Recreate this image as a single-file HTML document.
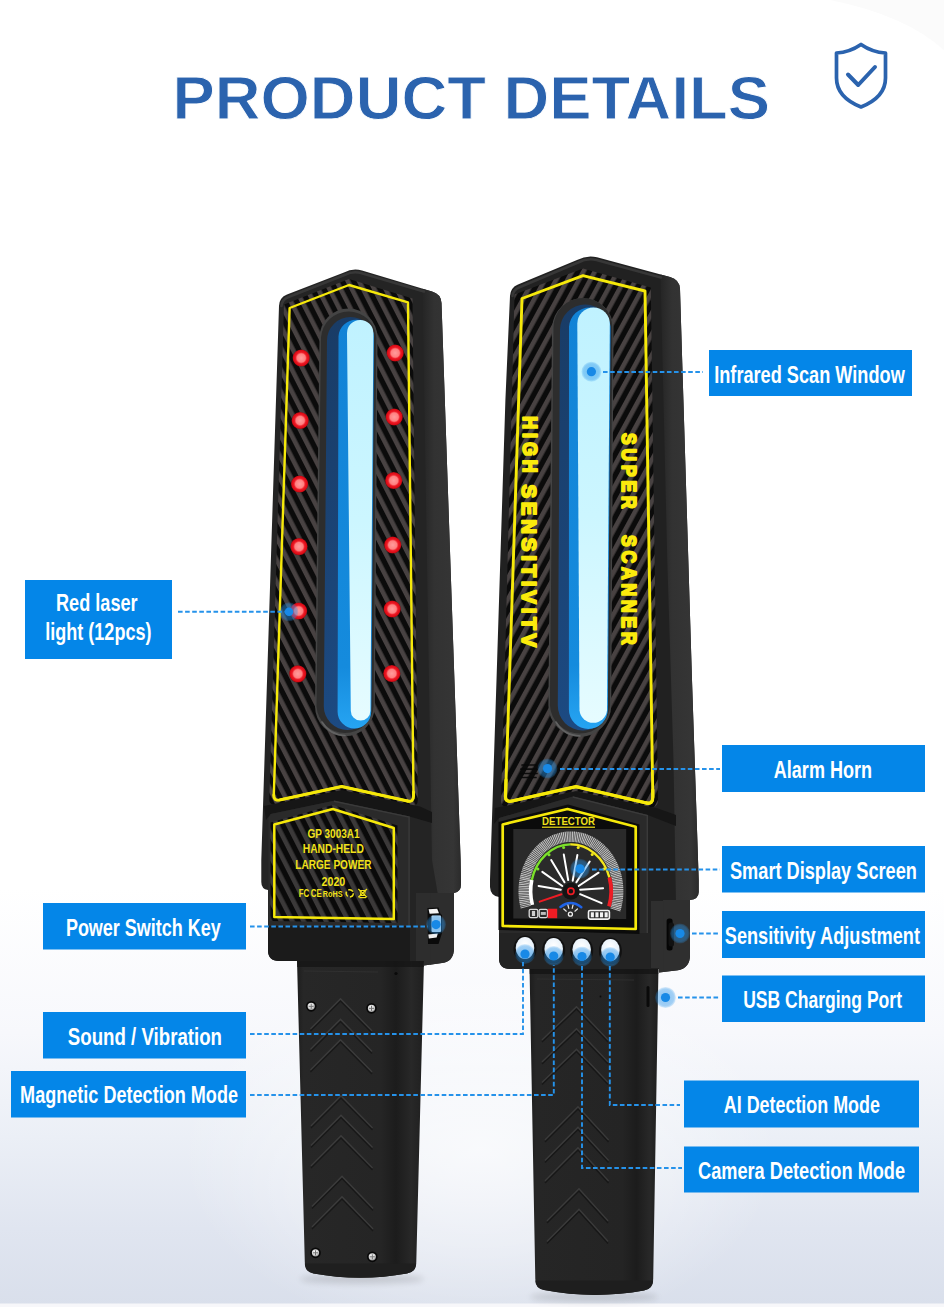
<!DOCTYPE html>
<html><head><meta charset="utf-8"><title>Product Details</title>
<style>
html,body{margin:0;padding:0;background:#fff;}
body{width:944px;height:1307px;overflow:hidden;position:relative;font-family:"Liberation Sans",sans-serif;}
svg{position:absolute;left:0;top:0;display:block;}
text{font-family:"Liberation Sans",sans-serif;}
.lb{font-weight:bold;fill:#fff;font-size:24.5px;}
.dash{fill:none;stroke:#2592ea;stroke-width:1.9;stroke-dasharray:4.6 2.5;}
</style></head><body>
<svg width="944" height="1307" viewBox="0 0 944 1307">
<defs>
<linearGradient id="bg" x1="0" y1="0" x2="0" y2="1">
<stop offset="0" stop-color="#ffffff"/><stop offset="0.68" stop-color="#ffffff"/>
<stop offset="0.79" stop-color="#f7f8fc"/><stop offset="0.87" stop-color="#ebeff6"/><stop offset="0.94" stop-color="#e0e5f0"/><stop offset="1" stop-color="#d9dfeb"/>
</linearGradient>
<filter id="blur3" x="-20%" y="-200%" width="140%" height="500%"><feGaussianBlur stdDeviation="3"/></filter>
<radialGradient id="bgc" cx="0.5" cy="0.5" r="0.5">
<stop offset="0" stop-color="#ffffff" stop-opacity="0.7"/><stop offset="0.5" stop-color="#ffffff" stop-opacity="0.4"/><stop offset="1" stop-color="#ffffff" stop-opacity="0"/>
</radialGradient>
</defs>
<!-- BACKGROUND -->
<rect width="944" height="1307" fill="url(#bg)"/>
<path d="M830 0 L944 0 L944 50 Q905 15 830 0 Z" fill="#fbfbfb"/>
<ellipse cx="480" cy="1150" rx="300" ry="190" fill="url(#bgc)"/>
<rect x="0" y="1303.500" width="944" height="4" fill="#f7f7fa"/>
<!-- TITLE -->
<text id="title" x="172.500" y="118.600" font-size="61" font-weight="bold" fill="#2b63ae" stroke="#ffffff" stroke-width="0.900" paint-order="fill stroke" textLength="597.500" lengthAdjust="spacingAndGlyphs">PRODUCT DETAILS</text>
<!-- SHIELD -->
<g id="shield" fill="none" stroke="#2b63ae" stroke-width="3.7" stroke-linejoin="round" stroke-linecap="round">
<path d="M861 44.5 C853 50 845 52.5 836.5 53 L836.5 78 C836.5 92 846 101 861 107 C876 101 885.500 92 885.500 78 L885.500 53 C877 52.500 869 50 861 44.500 Z"/>
<path d="M848 74.500 L858.200 85 L875 67" stroke-width="4"/>
</g>
<!--DEVICES-->
<defs>
<pattern id="cfL" width="10" height="40" patternUnits="userSpaceOnUse" patternTransform="rotate(-27)">
<rect width="10" height="40" fill="#0b0b0b"/><rect x="0" width="4.6" height="40" fill="#484242"/>
</pattern>
<pattern id="cfL2" width="10" height="40" patternUnits="userSpaceOnUse" patternTransform="rotate(-27)">
<rect width="10" height="40" fill="#0a0a0a"/><rect x="0" width="4.600" height="40" fill="#3b3939"/>
</pattern>
<pattern id="cfR" width="10" height="40" patternUnits="userSpaceOnUse" patternTransform="rotate(28.5)">
<rect width="10" height="40" fill="#0b0b0b"/><rect x="0" width="4.6" height="40" fill="#484242"/>
</pattern>
<linearGradient id="sideL" x1="0" y1="0" x2="1" y2="0">
<stop offset="0" stop-color="#252525"/><stop offset="0.3" stop-color="#323232"/><stop offset="0.8" stop-color="#353535"/><stop offset="1" stop-color="#2b2b2b"/>
</linearGradient>
<linearGradient id="handL" x1="0" y1="0" x2="1" y2="0">
<stop offset="0" stop-color="#1d1d1d"/><stop offset="0.05" stop-color="#272727"/><stop offset="0.66" stop-color="#252525"/><stop offset="0.78" stop-color="#1c1c1c"/><stop offset="0.90" stop-color="#282828"/><stop offset="1" stop-color="#1f1f1f"/>
</linearGradient>
<linearGradient id="cy" x1="0" y1="0" x2="0" y2="1"><stop offset="0" stop-color="#c0f2ff"/><stop offset="0.5" stop-color="#ccf6ff"/><stop offset="1" stop-color="#e6fcff"/></linearGradient>
<linearGradient id="bl" x1="0" y1="0" x2="0" y2="1"><stop offset="0" stop-color="#1283d6"/><stop offset="0.85" stop-color="#158bdd"/><stop offset="1" stop-color="#26a4f2"/></linearGradient>
<linearGradient id="db" x1="0" y1="0" x2="0" y2="1"><stop offset="0" stop-color="#193c66"/><stop offset="1" stop-color="#1c4a82"/></linearGradient>
<radialGradient id="red" cx="0.5" cy="0.5" r="0.5">
<stop offset="0" stop-color="#ff9c9c"/><stop offset="0.48" stop-color="#ff8080"/><stop offset="0.66" stop-color="#ee1a26"/><stop offset="0.9" stop-color="#d80a14"/><stop offset="1" stop-color="#8d0a10"/>
</radialGradient>
<radialGradient id="screw" cx="0.45" cy="0.4" r="0.6">
<stop offset="0" stop-color="#ffffff"/><stop offset="0.6" stop-color="#cfcfcf"/><stop offset="1" stop-color="#6d6d6d"/>
</radialGradient>
</defs>
<g id="devL">
<!-- handle -->
<ellipse cx="362" cy="1279" rx="62" ry="5" fill="#000" opacity="0.13" filter="url(#blur3)"/>
<path d="M297 960 L424 960 L416.300 1262 Q416.200 1272 407 1273.500 Q360 1282 313.500 1273.500 Q305 1272 304.800 1262 Z" fill="url(#handL)"/>
<path d="M297 960 L424 960 L423.800 967 L297.200 967 Z" fill="#151515" opacity="0.8"/>
<path d="M304 971 L378 972" stroke="#303030" stroke-width="1.200" fill="none"/>
<circle cx="396" cy="973.500" r="1.600" fill="#0a0a0a"/>
<path d="M304.800 1263.500 L416.200 1263.500 Q416 1272 407 1273.500 Q360 1282 313.500 1273.500 Q305 1272 304.800 1263.500 Z" fill="#1f1f1f"/>
<g fill="none" stroke="#3b3b3b" stroke-width="1.6" stroke-linejoin="miter">
<path d="M310.500 1029 L340.500 999 L372 1031"/><path d="M310.500 1049.500 L340.500 1019.500 L372 1051.500"/><path d="M310.500 1070 L340.500 1040 L372 1072"/>
<path d="M311 1126 L341 1096 L372.500 1128"/><path d="M311 1145.500 L341 1115.500 L372.500 1147.500"/><path d="M311 1166 L341 1136 L372.500 1168"/>
<path d="M312 1206.500 L342 1176.500 L373 1208.500"/><path d="M312 1227 L342 1197 L373 1229"/>
</g>
<g fill="none" stroke="#151515" stroke-width="1.4" stroke-linejoin="miter" opacity="0.8">
<path d="M310.500 1031 L340.500 1001 L372 1033"/><path d="M310.500 1051.500 L340.500 1021.500 L372 1053.500"/><path d="M310.500 1072 L340.500 1042 L372 1074"/>
<path d="M311 1128 L341 1098 L372.500 1130"/><path d="M311 1147.500 L341 1117.500 L372.500 1149.500"/><path d="M311 1168 L341 1138 L372.500 1170"/>
<path d="M312 1208.500 L342 1178.500 L373 1210.500"/><path d="M312 1229 L342 1199 L373 1231"/>
</g>
<g fill="url(#screw)" stroke="#080808" stroke-width="1.700">
<circle cx="311.200" cy="1006.300" r="4.500"/><circle cx="371.500" cy="1008.300" r="4.500"/><circle cx="315.500" cy="1252.800" r="4.500"/><circle cx="372.300" cy="1256.800" r="4.500"/>
</g>
<g stroke="#555" stroke-width="1" fill="none" opacity="0.8">
<path d="M308.700 1006.300 L313.700 1006.300 M311.200 1003.800 L311.200 1008.800"/><path d="M369 1008.300 L374 1008.300 M371.500 1005.800 L371.500 1010.800"/><path d="M313 1252.800 L318 1252.800 M315.500 1250.300 L315.500 1255.300"/><path d="M369.800 1256.800 L374.800 1256.800 M372.300 1254.300 L372.300 1259.300"/>
</g>
<!-- head silhouette -->
<path d="M344 272.500 Q352.500 268 362 270.500 L432 291.500 Q441 294 441.500 303 L460.600 860 L461 884 Q461 892 454 893 L454 948 Q454 961.500 442 963 L424 965.500 L424 961 L279 961 Q268 961 268 950 L268 890 Q261.300 889 261.300 882 L261.300 860 L279 306 Q279.300 297.500 287 294.500 Z" fill="#242424"/>
<!-- side face -->
<path d="M422.500 288.700 L432 291.500 Q441 294 441.500 303 L460.600 860 L461 884 Q461 892 454 893 L438 895 L432 860 Z" fill="url(#sideL)"/>
<!-- lower block right side -->
<path d="M430 893 L454 893 L454 948 Q454 961.500 442 963 L430 964.700 Z" fill="#2d2d2d"/>
<path d="M281.500 306 Q282 299.500 288.500 297 L345 274.800 Q352.500 271 361 273 L424 291.500" fill="none" stroke="#3b3b3b" stroke-width="2.600" stroke-linecap="round" opacity="0.85"/>
<!-- upper carbon panel -->
<path d="M284 304.500 L349 279 L412.500 298.500 L417.800 800 Q417.800 807 410.500 805.500 L342 790.500 L276 804.500 Q269 805.500 269.300 799 Z" fill="url(#cfL)"/>
<path d="M289.600 308 L349 285 L408 302.400 L413.500 796 Q413.500 802.500 407.500 801 L341.700 786.500 L279.500 800 Q273.500 801 273.800 795 Z" fill="none" stroke="#f6e90a" stroke-width="2.400" stroke-linejoin="round"/>
<path d="M407.500 801 L341.700 786.500 L279.500 800 Q273.500 801 273.800 795" fill="none" stroke="#f6e90a" stroke-width="2.900" stroke-linejoin="round" stroke-linecap="round"/>
<path d="M413.500 792 L413.500 796 Q413.500 802.500 407.500 801" fill="none" stroke="#f6e90a" stroke-width="2.900" stroke-linecap="round"/>
<!-- collar ridge -->
<path d="M264 806 L342 790 L420 806.500 L432 812 L432 823 L409.600 816.500 L334 800.700 L270.700 814 L266 820 Z" fill="#161616"/>
<path d="M270.700 814 L334 800.700 L409.600 816.500 L409.600 926 L268.500 926 L268.500 818 Z" fill="#2a2a2a"/>
<path d="M334 801.200 L409.100 817 L409.100 926" fill="none" stroke="#3a3a3a" stroke-width="1.400"/>
<path d="M268 926 L410 926 L410 961 L279 961 Q268 961 268 950 Z" fill="#1b1b1b"/>
<path d="M416 893 L430.500 893 L430.500 964.600 L424 965.500 L424 961 L416 961 Z" fill="#2d2d2d"/>
<!-- lower carbon panel -->
<path d="M270.500 822.500 L333 805 L397.500 825.500 L397.500 923 L270.500 921 Z" fill="url(#cfL2)"/>
<path d="M274.300 824.500 L332.800 809 L393.800 828 L393.800 919 L274.300 917 Z" fill="none" stroke="#f6e90a" stroke-width="2.500" stroke-linejoin="round"/>
<g fill="#f1e21a" font-weight="bold" font-size="12.400">
<text x="307.500" y="838.400" textLength="52" lengthAdjust="spacingAndGlyphs">GP 3003A1</text>
<text x="302.800" y="852.900" textLength="61" lengthAdjust="spacingAndGlyphs">HAND-HELD</text>
<text x="295.300" y="868.600" textLength="76.200" lengthAdjust="spacingAndGlyphs">LARGE POWER</text>
<text x="321.500" y="885.900" textLength="23.800" lengthAdjust="spacingAndGlyphs">2020</text>
<text x="298.800" y="897.300" font-size="10.500" textLength="10.500" lengthAdjust="spacingAndGlyphs">FC</text>
<text x="310.800" y="897.300" font-size="10.500" textLength="11" lengthAdjust="spacingAndGlyphs">CE</text>
<text x="322.800" y="897" font-size="9.500" textLength="19.800" lengthAdjust="spacingAndGlyphs">RoHS</text>
</g>
<g fill="none" stroke="#f1e21a" stroke-width="1.500">
<circle cx="349.700" cy="893.300" r="3.600" stroke-dasharray="5.300 2.200"/>
<path d="M358.300 889 L367 897.300 M367 889 L358.300 897.300" stroke-width="1.200"/>
<path d="M360 890.500 L365.300 890.500 L364.600 895.500 L360.700 895.500 Z" stroke-width="1"/>
<path d="M359.300 897.600 L366 897.600" stroke-width="1.200"/>
</g>
<!-- window -->
<g id="winL">
<path d="M319.5 337.5 A29.0 29.0 0 0 1 377.5 337.5 L374.8 706.3 A29.9 29.9 0 0 1 315.0 706.3 Z" fill="#444444"/>
<path d="M321.0 337.6 A27.7 27.7 0 0 1 376.3 337.6 L373.6 706.2 A28.6 28.6 0 0 1 316.5 706.2 Z" fill="#2d2d2d"/>
<path d="M327.0 340.5 A23.5 23.5 0 0 1 374.0 340.5 L371.2 706.3 A23.7 23.7 0 0 1 323.8 706.3 Z" fill="url(#db)"/>
<path d="M338.5 336.2 A17.8 17.8 0 0 1 374.0 336.2 L371.2 711.7 A16.8 16.8 0 0 1 337.6 711.7 Z" fill="url(#bl)"/>
<path d="M347.0 333.2 A13.2 13.2 0 0 1 373.4 333.2 L370.4 710.7 A9.8 9.8 0 0 1 350.8 710.7 Z" fill="url(#cy)"/>
<path d="M322 722 Q330 735 345 735.500" fill="none" stroke="#6a6a6a" stroke-width="1.600" stroke-linecap="round" opacity="0.8"/>
</g>
<!-- red dots -->
<g fill="url(#red)">
<circle cx="301.200" cy="358" r="8.600"/><circle cx="300.200" cy="420.500" r="8.600"/><circle cx="299.600" cy="484" r="8.600"/><circle cx="299" cy="546.600" r="8.600"/><circle cx="298.600" cy="611" r="8.600"/><circle cx="297.800" cy="673.800" r="8.600"/>
<circle cx="395.200" cy="353" r="8.600"/><circle cx="394.200" cy="417" r="8.600"/><circle cx="393.700" cy="480.500" r="8.600"/><circle cx="392.700" cy="545" r="8.600"/><circle cx="392.200" cy="609" r="8.600"/><circle cx="391.800" cy="673.500" r="8.600"/>
</g>
<!-- power switch -->
<path d="M427.500 908 L438.500 907.500 L440.500 914 L442 915 L442 933 L438.500 944 L428 944 Z" fill="#0a0a0a"/>
<path d="M428.600 909.200 L437.200 908.800 L439 913.200 L429.600 913.700 Z" fill="#f4f4f4"/>
<rect x="431.500" y="915.500" width="9.500" height="16.500" rx="1" fill="#dbe6ee"/>
<path d="M428.300 934.500 L437.800 933.500 L436.600 937.600 L428.800 938.600 Z" fill="#f0f0f0"/>
</g>

<!--DEVICES2-->
<defs>
<linearGradient id="handR" x1="0" y1="0" x2="1" y2="0">
<stop offset="0" stop-color="#1d1d1d"/><stop offset="0.05" stop-color="#262626"/><stop offset="0.72" stop-color="#242424"/><stop offset="0.83" stop-color="#1c1c1c"/><stop offset="0.93" stop-color="#282828"/><stop offset="1" stop-color="#1e1e1e"/>
</linearGradient>
<radialGradient id="btn" cx="0.5" cy="0.35" r="0.7">
<stop offset="0" stop-color="#ffffff"/><stop offset="0.6" stop-color="#e9f2fa"/><stop offset="1" stop-color="#a9c8e4"/>
</radialGradient>
<radialGradient id="halo" cx="0.5" cy="0.5" r="0.5">
<stop offset="0" stop-color="#2a95ea" stop-opacity="0.55"/><stop offset="0.8" stop-color="#2a95ea" stop-opacity="0.42"/><stop offset="1" stop-color="#2a95ea" stop-opacity="0.15"/>
</radialGradient>
</defs>
<g id="devR">
<!-- handle -->
<ellipse cx="594" cy="1297" rx="64" ry="5" fill="#000" opacity="0.13" filter="url(#blur3)"/>
<path d="M529.500 966 L658.500 966 L653.200 1279 Q653 1289 644 1290.500 Q594 1299.500 544 1290 Q535.500 1288.500 535.300 1279 Z" fill="url(#handR)"/>
<path d="M529.500 966 L658.500 966 L658.300 974 L529.700 974 Z" fill="#141414" opacity="0.8"/>
<path d="M537 979 L634 980" stroke="#2f2f2f" stroke-width="1.200" fill="none"/>
<path d="M535.300 1280.500 L653.200 1280.500 Q653 1289 644 1290.500 Q594 1299.500 544 1290 Q535.500 1288.500 535.300 1280.500 Z" fill="#1e1e1e"/>
<g fill="none" stroke="#3a3a3a" stroke-width="1.600">
<path d="M542 1040 L576.500 1007 L608 1040"/><path d="M542 1062 L576.500 1029 L608 1062"/><path d="M542 1082.500 L576.500 1049.500 L608 1082.500"/>
<path d="M545 1140 L578 1107 L608.500 1140"/><path d="M545 1160.500 L578 1127.500 L608.500 1160.500"/><path d="M545 1181 L578 1148 L608.500 1181"/>
<path d="M547 1221 L579 1189 L608 1221"/><path d="M547 1241.500 L579 1209.500 L608 1241.500"/>
</g>
<g fill="none" stroke="#141414" stroke-width="1.400" opacity="0.8">
<path d="M542 1042 L576.500 1009 L608 1042"/><path d="M542 1064 L576.500 1031 L608 1064"/><path d="M542 1084.500 L576.500 1051.500 L608 1084.500"/>
<path d="M545 1142 L578 1109 L608.500 1142"/><path d="M545 1162.500 L578 1129.500 L608.500 1162.500"/><path d="M545 1183 L578 1150 L608.500 1183"/>
<path d="M547 1223 L579 1191 L608 1223"/><path d="M547 1243.500 L579 1211.500 L608 1243.500"/>
</g>
<rect x="646.500" y="986" width="3" height="21" rx="1.500" fill="#0a0a0a"/>
<circle cx="600.500" cy="996.500" r="0.900" fill="#0a0a0a"/>
<!-- head silhouette -->
<path d="M577 260 Q587 254.800 597 257.300 L670 277 Q679.500 279.500 680 289 L683.400 400 L692 680 L698.700 880 L698.700 892 Q698.700 899 690 900 L690 955 Q690 968 678 970.200 L659 972.500 L659 969 L510 969 Q499 969 499 958 L499 897 Q490.500 896 490 887 L490 880 L496.500 680 L505.400 400 L510 296 Q510.500 287.500 518 284.500 Z" fill="#212121"/>
<!-- side face -->
<path d="M660.500 274.500 L670 277 Q679.500 279.500 680 289 L683.400 400 L692 680 L698.700 880 L698.700 892 Q698.700 899 690 900 L676 902 L673.500 760 L667.300 560 L663.500 400 Z" fill="url(#sideL)"/>
<path d="M663 900 L690 900 L690 955 Q690 968 678 970.200 L663 972 Z" fill="#2f2f2f"/>
<path d="M512.500 296 Q513 290 519.500 287.300 L578 262.500 Q587 257.800 596.500 260 L661 277.500" fill="none" stroke="#3b3b3b" stroke-width="2.600" stroke-linecap="round" opacity="0.85"/>
<!-- upper carbon -->
<path d="M514.500 294.500 L583 268.500 L650.800 287.500 L658 800 Q658 808.500 650 807 L576 791 L508 806 Q500.500 807.500 501 800 L504.500 680 Z" fill="url(#cfR)"/>
<path d="M522 298.500 L583 275.600 L645 291 L652.800 797 Q652.800 804.500 646.500 803 L576 786.700 L512 801 Q505 802.500 505.500 796 L509.400 680 Z" fill="none" stroke="#f6e90a" stroke-width="2.900" stroke-linejoin="round"/>
<path d="M646.500 803 L576 786.700 L512 801 Q505 802.500 505.500 796 L506 780" fill="none" stroke="#f6e90a" stroke-width="3.300" stroke-linejoin="round" stroke-linecap="round"/>
<path d="M652.800 790 L652.800 797 Q652.800 804.500 646.500 803" fill="none" stroke="#f6e90a" stroke-width="3.300" stroke-linecap="round"/>
<!-- collar -->
<path d="M495 808 L576 791.500 L658 808.500 L676 815 L676 826 L647.800 815 L572.800 796.500 L499 818 L494 824 Z" fill="#161616"/>
<path d="M499 818 L572.800 796.500 L647.800 815 L647.800 933 L499 933 Z" fill="#2a2a2a"/>
<path d="M572.800 797 L647.300 815.500 L647.300 933" fill="none" stroke="#3a3a3a" stroke-width="1.400"/>
<path d="M499 933 L650 933 L650 969 L510 969 Q499 969 499 958 Z" fill="#232323"/>
<path d="M651 901 L663.500 901 L663.500 972 L659 972.500 L659 968 L651 968 Z" fill="#2f2f2f"/>
<!-- lower panel -->
<path d="M498.500 822 L568 804.500 L639.500 824.500 L639.500 934 L498.500 930 Z" fill="#0b0b0b"/>
<path d="M502.700 824.500 L567.500 809 L635.700 826.700 L635.700 929 L502.700 926 Z" fill="none" stroke="#f6e90a" stroke-width="2.700" stroke-linejoin="round"/>
<text x="568.600" y="825" font-size="10.800" font-weight="bold" fill="#f1e21a" text-anchor="middle" textLength="53" lengthAdjust="spacingAndGlyphs">DETECTOR</text>
<rect x="542" y="826.600" width="53" height="1.200" fill="#f1e21a"/>
<!-- screen -->
<path d="M513.300 829 L626.200 829 L626.200 919 L513.300 918.500 Z" fill="#2a2a2a"/>
<g id="gauge">
<path d="M525.8 907.2 A47.2 54.6 0 1 1 615.3 909.9" fill="none" stroke="#bdbdbd" stroke-width="10.500" stroke-dasharray="1.150 0.550"/>
<path d="M532.4 904.9 A40.3 46.8 0 0 1 531.8 879.9" fill="none" stroke="#ffffff" stroke-width="3.600"/>
<path d="M531.8 879.9 A40.3 46.8 0 0 1 570.2 844.4" fill="none" stroke="#7be02a" stroke-width="2.400"/>
<path d="M570.2 844.4 A40.3 46.8 0 0 1 609.4 877.5" fill="none" stroke="#f4e71c" stroke-width="2.400"/>
<path d="M609.4 877.5 A40.3 46.8 0 0 1 609.0 906.4" fill="none" stroke="#ee1c24" stroke-width="3.800"/>
<circle cx="537.9" cy="869.0" r="1.500" fill="#7be02a"/><circle cx="549.0" cy="854.8" r="1.500" fill="#7be02a"/><circle cx="563.6" cy="847.6" r="1.500" fill="#7be02a"/><circle cx="578.2" cy="847.6" r="1.500" fill="#f4e71c"/><circle cx="592.2" cy="854.4" r="1.500" fill="#f4e71c"/><circle cx="603.9" cy="869.0" r="1.500" fill="#f4e71c"/>
<g stroke="#ffffff" stroke-width="2" stroke-linecap="round"><path d="M538.6 886.0 L560.8 889.7"/><path d="M542.3 871.9 L562.3 886.0"/><path d="M551.2 860.1 L564.5 882.3"/><path d="M563.8 854.6 L568.2 880.1"/><path d="M577.4 854.9 L572.7 880.8"/><path d="M589.7 861.5 L576.4 882.3"/><path d="M598.6 872.7 L578.6 886.0"/><path d="M603.1 888.2 L580.1 889.7"/><path d="M601.6 903.1 L580.1 894.2"/></g>
<path d="M539.7 901.6 L561.5 894.2" stroke="#ee1c24" stroke-width="2" stroke-linecap="round"/>
<circle cx="570.9" cy="891.2" r="8.500" fill="#141414"/>
<circle cx="570.9" cy="891.2" r="3.100" fill="none" stroke="#ee1c24" stroke-width="1.700"/>
<path d="M560.5 906.9 Q570.9 899.1 581.3 907.2" fill="none" stroke="#1f63e6" stroke-width="2.500" stroke-linecap="round"/>
<circle cx="570.4" cy="914.2" r="2" fill="none" stroke="#f2f2f2" stroke-width="1.300"/>
<g stroke="#e6e6e6" stroke-width="1.200" stroke-linecap="round"><path d="M567.9 905.0 L568.8 908.3"/><path d="M573.0 905.0 L572.2 908.3"/><path d="M563.8 909.0 L566.3 911.2"/><path d="M577.4 909.0 L574.9 911.2"/></g>
<rect x="529.2" y="909.3" width="8.6" height="8.3" rx="1.500" fill="#2a2a2a" stroke="#dcdcdc" stroke-width="1.300"/>
<rect x="539.2" y="909.3" width="8.3" height="8.3" rx="1.500" fill="#2a2a2a" stroke="#dcdcdc" stroke-width="1.300"/>
<rect x="531.9" y="910.9" width="3.2" height="5.1" fill="#cfcfcf"/>
<rect x="540.8" y="912.0" width="5.0" height="2.9" fill="#bdbdbd"/>
<rect x="547.8" y="908.7" width="9.4" height="9.5" fill="#ee1c24"/>
<rect x="588.5" y="910.5" width="20.9" height="8.6" rx="1.500" fill="none" stroke="#f2f2f2" stroke-width="1.600"/>
<rect x="590.8" y="912.3" width="3.1" height="5.0" fill="#f2f2f2"/>
<rect x="595.4" y="912.3" width="3.1" height="5.0" fill="#f2f2f2"/>
<rect x="600.0" y="912.3" width="3.1" height="5.0" fill="#f2f2f2"/>
<rect x="604.6" y="912.3" width="3.1" height="5.0" fill="#f2f2f2"/>
</g>
<!-- window -->
<g id="winR">
<path d="M552.0 327.2 A30.8 30.8 0 0 1 613.5 327.2 L611.2 705.4 A31.4 31.4 0 0 1 548.4 705.4 Z" fill="#444444"/>
<path d="M553.5 327.4 A29.4 29.4 0 0 1 612.3 327.4 L610.0 705.2 A30.1 30.1 0 0 1 549.9 705.2 Z" fill="#2d2d2d"/>
<path d="M560.0 329.8 A25.2 25.2 0 0 1 610.5 329.8 L607.8 705.5 A25.0 25.0 0 0 1 557.8 705.5 Z" fill="url(#db)"/>
<path d="M569.0 326.8 A20.8 20.8 0 0 1 610.5 326.8 L607.8 709.5 A19.4 19.4 0 0 1 568.9 709.5 Z" fill="url(#bl)"/>
<path d="M577.3 323.8 A16.2 16.2 0 0 1 609.8 323.8 L607.0 710.2 A13.8 13.8 0 0 1 579.5 710.2 Z" fill="url(#cy)"/>
<path d="M556 722 Q564 735.500 580 736" fill="none" stroke="#6a6a6a" stroke-width="1.600" stroke-linecap="round" opacity="0.8"/>
</g>
<!-- texts -->
<g fill="#fbea0c" stroke="#fbea0c" stroke-width="2" stroke-linejoin="round" font-weight="bold" font-size="21">
<text transform="translate(522.7 416.2) rotate(90) scale(0.856 1)" textLength="66.0" lengthAdjust="spacing">HIGH</text>
<text transform="translate(522.2 484.5) rotate(90) scale(0.97 1)" textLength="167.5" lengthAdjust="spacing">SENSITIVITV</text>
<text transform="translate(622 433) rotate(90) scale(0.83 1)" textLength="91.0" lengthAdjust="spacing">SUPER</text>
<text transform="translate(622 535) rotate(90) scale(0.833 1)" textLength="131.5" lengthAdjust="spacing">SCANNER</text>
</g>
<!-- horn slots -->
<g stroke="#080808" stroke-width="1.700" stroke-linecap="round" opacity="0.9"><path d="M522 765 L536 765"/><path d="M521 769.200 L537 769.200"/><path d="M521 773.500 L537 773.500"/><path d="M522 777.500 L536 777.500"/></g>
<!-- buttons -->
<g>
<ellipse cx="525" cy="949" rx="11.500" ry="13.500" fill="#111"/><ellipse cx="553.700" cy="950" rx="11.500" ry="13.500" fill="#111"/><ellipse cx="581.700" cy="950.500" rx="11.500" ry="13.500" fill="#111"/><ellipse cx="610.400" cy="951" rx="11.500" ry="13.500" fill="#111"/>
<ellipse cx="525" cy="948" rx="9.300" ry="11" fill="url(#btn)"/><ellipse cx="553.700" cy="949" rx="9.300" ry="11" fill="url(#btn)"/><ellipse cx="581.700" cy="949.500" rx="9.300" ry="11" fill="url(#btn)"/><ellipse cx="610.400" cy="950" rx="9.300" ry="11" fill="url(#btn)"/>
</g>
<!-- sensitivity knob -->
<rect x="666.600" y="918.500" width="6" height="32" rx="2.500" fill="#050505"/>
<rect x="668.500" y="922.500" width="5.500" height="24" rx="2.500" fill="#111111"/>
</g>

<!--LINES-->
<g id="lines" class="dash">
<path class="dash" d="M178 611.800 L285 611.800"/>
<path class="dash" d="M603 372 L703 372"/>
<path class="dash" d="M560 769 L720 769"/>
<path class="dash" d="M592 869.500 L720 869.500"/>
<path class="dash" d="M692 933.500 L720 933.500"/>
<path class="dash" d="M678 997.500 L720 997.500"/>
<path class="dash" d="M250 926.500 L428 926.500"/>
<path class="dash" d="M250 1034 L523 1034 L523 962"/>
<path class="dash" d="M250 1095 L553.800 1095 L553.800 965"/>
<path class="dash" d="M609.800 966 L609.800 1105 L680 1105"/>
<path class="dash" d="M582 966 L582 1168 L682 1168"/>
</g>
<g id="markers">
<g fill="url(#halo)">
<circle cx="289" cy="611.800" r="9.500"/><circle cx="591.400" cy="371.700" r="10"/><circle cx="547.500" cy="768.600" r="10"/><circle cx="580" cy="868.800" r="10"/><circle cx="680" cy="933.500" r="10"/><circle cx="665.500" cy="997.500" r="10.500"/><circle cx="436" cy="924.600" r="10"/>
<circle cx="525" cy="954" r="10"/><circle cx="553.700" cy="956" r="10"/><circle cx="582" cy="956.500" r="10"/><circle cx="610.200" cy="957" r="10"/>
</g>
<g fill="#1889e6">
<circle cx="289" cy="611.800" r="4.300"/><circle cx="591.400" cy="371.700" r="4.600"/><circle cx="547.500" cy="768.600" r="4.600"/><circle cx="580" cy="868.800" r="4.600"/><circle cx="680" cy="933.500" r="4.600"/><circle cx="665.500" cy="997.500" r="4.600"/><circle cx="436" cy="924.600" r="4.600"/>
<circle cx="525" cy="954" r="4.600"/><circle cx="553.700" cy="956" r="4.600"/><circle cx="582" cy="956.500" r="4.600"/><circle cx="610.200" cy="957" r="4.600"/>
</g>
</g>

<!-- LABELS -->
<g id="labels">
<rect x="25" y="580" width="147" height="79" fill="#0486e8"/>
<text class="lb" x="56.0" y="611" textLength="81.6" lengthAdjust="spacingAndGlyphs">Red laser</text>
<text class="lb" x="45.2" y="639.500" textLength="106.3" lengthAdjust="spacingAndGlyphs">light (12pcs)</text>
<rect x="43" y="903" width="203" height="46.500" fill="#0486e8"/>
<text class="lb" x="65.9" y="935.500" textLength="154.9" lengthAdjust="spacingAndGlyphs">Power Switch Key</text>
<rect x="43" y="1012" width="203" height="46.500" fill="#0486e8"/>
<text class="lb" x="67.8" y="1044.500" textLength="154.2" lengthAdjust="spacingAndGlyphs">Sound / Vibration</text>
<rect x="11" y="1071" width="235" height="46.500" fill="#0486e8"/>
<text class="lb" x="20.1" y="1103" textLength="217.9" lengthAdjust="spacingAndGlyphs">Magnetic Detection Mode</text>
<rect x="709" y="350" width="203" height="46" fill="#0486e8"/>
<text class="lb" x="714.2" y="382.500" textLength="190.6" lengthAdjust="spacingAndGlyphs">Infrared Scan Window</text>
<rect x="722" y="745" width="203" height="47" fill="#0486e8"/>
<text class="lb" x="773.8" y="777.500" textLength="98.2" lengthAdjust="spacingAndGlyphs">Alarm Horn</text>
<rect x="722" y="846" width="203" height="46.500" fill="#0486e8"/>
<text class="lb" x="730.0" y="879" textLength="186.9" lengthAdjust="spacingAndGlyphs">Smart Display Screen</text>
<rect x="722" y="911" width="203" height="47" fill="#0486e8"/>
<text class="lb" x="724.8" y="943.500" textLength="195.2" lengthAdjust="spacingAndGlyphs">Sensitivity Adjustment</text>
<rect x="722" y="975.500" width="203" height="46.500" fill="#0486e8"/>
<text class="lb" x="743.2" y="1007.500" textLength="158.8" lengthAdjust="spacingAndGlyphs">USB Charging Port</text>
<rect x="684" y="1080.500" width="235" height="47" fill="#0486e8"/>
<text class="lb" x="723.8" y="1113" textLength="156.1" lengthAdjust="spacingAndGlyphs">AI Detection Mode</text>
<rect x="684" y="1146.500" width="235" height="46" fill="#0486e8"/>
<text class="lb" x="698.0" y="1178.500" textLength="207.1" lengthAdjust="spacingAndGlyphs">Camera Detection Mode</text>
</g>
</svg>
</body></html>
